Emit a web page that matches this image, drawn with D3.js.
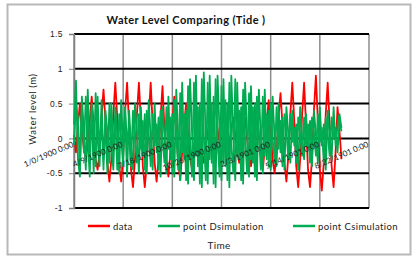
<!DOCTYPE html>
<html>
<head>
<meta charset="utf-8">
<script src="https://d3js.org/d3.v7.min.js"></script>
<style>
  body { margin: 0; background: #fff; }
  svg { display: block; font-family: Lato, "Open Sans", sans-serif; }
</style>
</head>
<body>
<script>
// days since 1/0/1900, one reading every 4 days
const step = 4;
const tickDays = [0, 100, 200, 300, 400, 500, 600];
const tickLabels = ['1/0/1900 0:00', '4/9/1900 0:00', '7/18/1900 0:00', '10/26/1900 0:00',
                    '2/3/1901 0:00', '5/14/1901 0:00', '8/22/1901 0:00'];
const yTicks = [-1, -0.5, 0, 0.5, 1, 1.5];

const dataLevel = [
  0.05, -0.2, 0.2, 0.5, 0.1, -0.15, -0.3, -0.1, 0.25, 0.6,
  0.2, -0.3, -0.45, -0.2, 0.3, 0.7, 0.25, -0.35, -0.62, -0.3,
  0.35, 0.8, 0.3, -0.4, -0.62, -0.25, 0.4, 0.8, 0.2, -0.45,
  -0.7, -0.3, 0.35, 0.8, 0.25, -0.4, -0.7, -0.35, 0.3, 0.8,
  0.2, -0.35, -0.62, -0.3, 0.3, 0.75, 0.15, -0.3, -0.55, -0.2,
  0.25, 0.6, 0.1, -0.35, -0.6, -0.2, 0.2, 0.5, 0.05, -0.25,
  -0.45, -0.15, 0.15, 0.35, 0.0, -0.2, -0.35, -0.1, 0.1, 0.3,
  0.05, -0.15, -0.3, -0.05, 0.15, 0.3, 0.0, -0.2, -0.3, -0.1,
  0.15, 0.3, 0.05, -0.2, -0.35, -0.1, 0.1, 0.3, 0.0, -0.25,
  -0.4, -0.1, 0.15, 0.35, 0.05, -0.25, -0.45, -0.15, 0.25, 0.55,
  0.15, -0.3, -0.5, -0.2, 0.3, 0.65, 0.2, -0.35, -0.62, -0.25,
  0.35, 0.8, 0.25, -0.4, -0.7, -0.3, 0.35, 0.8, 0.2, -0.45,
  -0.7, -0.3, 0.4, 0.9, 0.25, -0.45, -0.75, -0.35, 0.35, 0.8,
  0.2, -0.4, -0.7, -0.2, 0.45, 0.1, -0.3
];
const pointD = [
  0.2, 0.83, -0.3, -0.55, 0.6, 0.1, -0.45, 0.7, -0.2, 0.4,
  -0.5, 0.65, 0.0, -0.4, 0.55, -0.3, 0.2, -0.5, 0.5, -0.1,
  -0.45, 0.45, 0.05, -0.5, 0.55, -0.2, 0.3, -0.55, 0.4, -0.1,
  -0.45, 0.5, 0.1, -0.5, 0.45, -0.25, 0.35, -0.5, 0.55, 0.0,
  -0.45, 0.5, -0.2, 0.3, -0.55, 0.45, 0.05, -0.5, 0.6, -0.3,
  0.35, -0.55, 0.7, 0.0, -0.6, 0.8, -0.3, 0.4, -0.65, 0.85,
  0.1, -0.6, 0.9, -0.4, 0.5, -0.7, 0.95, 0.0, -0.65, 0.9,
  -0.35, 0.6, -0.7, 0.9, 0.1, -0.6, 0.85, -0.4, 0.5, -0.7,
  0.9, 0.0, -0.6, 0.8, -0.3, 0.45, -0.65, 0.8, 0.05, -0.55,
  0.75, -0.35, 0.5, -0.6, 0.7, 0.0, -0.5, 0.7, -0.3, 0.4,
  -0.45, 0.6, 0.0, -0.4, 0.5, -0.2, 0.3, -0.45, 0.45, 0.05,
  -0.35, 0.4, -0.1, 0.2, -0.45, 0.45, 0.0, -0.3, 0.35, -0.15,
  0.25, -0.4, 0.4, 0.05, -0.35, 0.45, -0.1, 0.2, -0.45, 0.4,
  0.0, -0.3, 0.45, -0.1, 0.2, 0.35, 0.15
];
const pointC = [
  -0.1, 0.5, 0.3, -0.4, 0.45, -0.2, 0.6, 0.0, -0.55, 0.5,
  0.1, -0.4, 0.6, -0.2, 0.3, -0.45, 0.4, 0.1, -0.35, 0.5,
  -0.2, 0.25, -0.45, 0.35, 0.0, -0.4, 0.45, -0.1, 0.2, -0.4,
  0.4, 0.0, -0.35, 0.35, -0.15, 0.25, -0.45, 0.4, 0.05, -0.4,
  0.35, -0.1, 0.2, -0.45, 0.4, 0.0, -0.35, 0.45, -0.15, 0.3,
  -0.5, 0.55, 0.05, -0.45, 0.65, -0.2, 0.35, -0.6, 0.75, 0.0,
  -0.55, 0.8, -0.25, 0.45, -0.65, 0.85, 0.05, -0.6, 0.8, -0.3,
  0.5, -0.65, 0.85, 0.0, -0.55, 0.75, -0.35, 0.55, -0.6, 0.8,
  -0.1, -0.5, 0.85, -0.25, 0.4, -0.6, 0.7, 0.0, -0.5, 0.65,
  -0.3, 0.45, -0.55, 0.6, 0.05, -0.45, 0.6, -0.25, 0.35, -0.4,
  0.5, 0.0, -0.35, 0.45, -0.15, 0.25, -0.4, 0.35, 0.1, -0.3,
  0.35, -0.05, 0.15, -0.35, 0.3, 0.05, -0.25, 0.3, -0.1, 0.2,
  -0.35, 0.3, 0.1, -0.25, 0.35, -0.05, 0.15, -0.35, 0.3, 0.05,
  -0.25, 0.3, 0.0, 0.15, -0.2, 0.25, 0.1
];

const series = [
  { name: 'data', values: dataLevel, color: '#ff0000' },
  { name: 'point Dsimulation', values: pointD, color: '#00a850' },
  { name: 'point Csimulation', values: pointC, color: '#00ad52' }
];

const width = 419, height = 258;
const plot = { left: 74, top: 34, right: 369, bottom: 208 };

const svg = d3.select('body').append('svg')
  .attr('width', width)
  .attr('height', height);

// chart frame
svg.append('rect')
  .attr('x', 7.5).attr('y', 4.5)
  .attr('width', 403).attr('height', 250)
  .attr('fill', '#fff')
  .attr('stroke', '#b8b8b8')
  .attr('stroke-width', 2);

const x = d3.scaleLinear().domain([0, 600]).range([plot.left, plot.right]);
const y = d3.scaleLinear().domain([-1, 1.5]).range([plot.bottom, plot.top]);

// vertical gridlines (gray)
svg.append('g')
  .selectAll('line')
  .data(tickDays)
  .join('line')
  .attr('x1', d => x(d)).attr('x2', d => x(d))
  .attr('y1', plot.top).attr('y2', plot.bottom)
  .attr('stroke', '#8c8c8c')
  .attr('stroke-width', 1.5);

// horizontal gridlines (black)
svg.append('g')
  .selectAll('line')
  .data(yTicks)
  .join('line')
  .attr('x1', plot.left).attr('x2', plot.right)
  .attr('y1', d => y(d)).attr('y2', d => y(d))
  .attr('stroke', '#000')
  .attr('stroke-width', 2);

// y axis
const yAxis = svg.append('g')
  .attr('transform', `translate(${plot.left},0)`)
  .call(d3.axisLeft(y).tickValues(yTicks).tickSize(5).tickFormat(d => d));
yAxis.select('.domain').attr('stroke', '#7f7f7f').attr('stroke-width', 1.5);
yAxis.selectAll('.tick line').attr('stroke', '#7f7f7f');
yAxis.selectAll('.tick text')
  .attr('font-size', 8.5)
  .attr('letter-spacing', 0.4)
  .attr('fill', '#222')
  .attr('x', -11);

// series lines
const line = d3.line()
  .x((d, i) => x(i * step))
  .y(d => y(d));

svg.append('g')
  .selectAll('path')
  .data(series)
  .join('path')
  .attr('d', d => line(d.values))
  .attr('fill', 'none')
  .attr('stroke', d => d.color)
  .attr('stroke-width', 1.8)
  .attr('stroke-linejoin', 'round');

// date labels along the zero line
svg.append('g')
  .selectAll('text')
  .data(tickDays)
  .join('text')
  .attr('transform', d => `translate(${x(d)},${y(0) + 8}) rotate(-23)`)
  .attr('text-anchor', 'end')
  .attr('font-size', 8)
  .attr('fill', '#222')
  .text((d, i) => tickLabels[i]);

// title
svg.append('text')
  .attr('x', 186).attr('y', 24)
  .attr('text-anchor', 'middle')
  .attr('font-size', 11)
  .attr('letter-spacing', 0.4)
  .attr('font-weight', 'bold')
  .attr('fill', '#111')
  .text('Water Level Comparing (Tide )');

// axis titles
svg.append('text')
  .attr('transform', `translate(36,109) rotate(-90)`)
  .attr('text-anchor', 'middle')
  .attr('font-size', 9.5)
  .attr('letter-spacing', 0.6)
  .attr('fill', '#222')
  .text('Water level (m)');

svg.append('text')
  .attr('x', 219).attr('y', 249)
  .attr('text-anchor', 'middle')
  .attr('font-size', 10)
  .attr('letter-spacing', 0.3)
  .attr('fill', '#222')
  .text('Time');

// legend
const legendX = [88, 158, 293];
const legend = svg.append('g')
  .selectAll('g')
  .data(series)
  .join('g')
  .attr('transform', (d, i) => `translate(${legendX[i]},226)`);
legend.append('line')
  .attr('x1', 0).attr('x2', 22)
  .attr('stroke', d => d.color)
  .attr('stroke-width', 2.5);
legend.append('text')
  .attr('x', 25).attr('y', 3.5)
  .attr('font-size', 9.5)
  .attr('letter-spacing', 0.4)
  .attr('fill', '#222')
  .text(d => d.name);
</script>
</body>
</html>
